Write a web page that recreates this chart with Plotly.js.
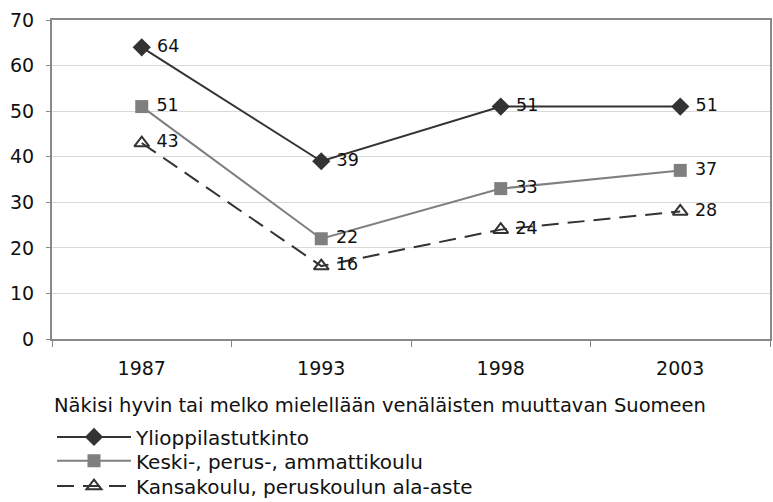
<!DOCTYPE html>
<html><head><meta charset="utf-8">
<script src="https://cdn.plot.ly/plotly-3.0.1.min.js"></script>
<style>body{margin:0;padding:0;background:#fff}#chart{width:773px;height:502px}</style>
</head><body><div id="chart"></div>
<script>
const years = ['1987', '1993', '1998', '2003'];
const ylioppilas = [64, 39, 51, 51];
const keskiPerus = [51, 22, 33, 37];
const kansakoulu = [43, 16, 24, 28];
const seriesNames = ['Ylioppilastutkinto', 'Keski-, perus-, ammattikoulu', 'Kansakoulu, peruskoulun ala-aste'];
const legendTitle = 'Näkisi hyvin tai melko mielellään venäläisten muuttavan Suomeen';

const FONT = 'DejaVu Sans, Liberation Sans, Arial, sans-serif';
const labelFont = {family: FONT, size: 17.5, color: '#111'};
const lbl = v => '\u00a0' + v;

const traces = [
  {x: years, y: ylioppilas, name: seriesNames[0], type: 'scatter', mode: 'lines+markers+text', legend: 'legend',
   text: ylioppilas.map(lbl), textposition: 'middle right', textfont: labelFont,
   line: {color: '#333333', width: 2}, marker: {symbol: 'diamond', size: 14, color: '#333333'}},
  {x: years, y: keskiPerus, name: seriesNames[1], type: 'scatter', mode: 'lines+markers+text', legend: 'legend2',
   text: keskiPerus.map(lbl), textposition: 'middle right', textfont: labelFont,
   line: {color: '#7f7f7f', width: 2}, marker: {symbol: 'square', size: 13, color: '#7f7f7f'}},
  {x: years, y: kansakoulu, name: seriesNames[2], type: 'scatter', mode: 'lines+markers+text', legend: 'legend3',
   text: kansakoulu.map(lbl), textposition: 'middle right', textfont: labelFont,
   line: {color: '#333333', width: 2, dash: '17px,9px'},
   marker: {symbol: 'triangle-up-open', size: 13, color: '#333333', line: {width: 2, color: '#333333'}}}
];

const legFont = {family: FONT, size: 20, color: '#111'};
const legBase = {x: 0, xanchor: 'left', yanchor: 'middle', font: legFont, itemwidth: 74,
                 bgcolor: 'rgba(0,0,0,0)', borderwidth: 0};

const layout = {
  width: 773, height: 502,
  margin: {l: 52, r: 3, t: 20, b: 163, autoexpand: false},
  paper_bgcolor: '#fff', plot_bgcolor: '#fff',
  font: {family: FONT, size: 19, color: '#111'},
  showlegend: true,
  legend: Object.assign({}, legBase, {y: -0.307}),
  legend2: Object.assign({}, legBase, {y: -0.382}),
  legend3: Object.assign({}, legBase, {y: -0.461}),
  annotations: [{
    text: legendTitle, xref: 'paper', yref: 'paper', x: 0, y: -0.207,
    xanchor: 'left', yanchor: 'middle', showarrow: false, xshift: 0,
    font: {family: FONT, size: 19.5, color: '#111'}
  }],
  xaxis: {
    type: 'category', range: [-0.5, 3.5],
    showline: true, linecolor: '#888', linewidth: 2, mirror: true,
    ticks: 'outside', tickson: 'boundaries', ticklen: 6, tickcolor: '#888', tickwidth: 1,
    ticklabelstandoff: 11,
    showgrid: false, tickfont: {family: FONT, size: 19, color: '#111'},
    automargin: false
  },
  yaxis: {
    range: [0, 70], dtick: 10, tick0: 0,
    showline: true, linecolor: '#888', linewidth: 2, mirror: true,
    ticks: 'outside', ticklen: 4, tickcolor: '#888',
    ticklabelstandoff: 8,
    showgrid: true, gridcolor: '#d9d9d9', gridwidth: 1, zeroline: false,
    tickfont: {family: FONT, size: 19, color: '#111'},
    automargin: false
  }
};

Plotly.newPlot('chart', traces, layout, {displayModeBar: false, staticPlot: true});
</script></body></html>
